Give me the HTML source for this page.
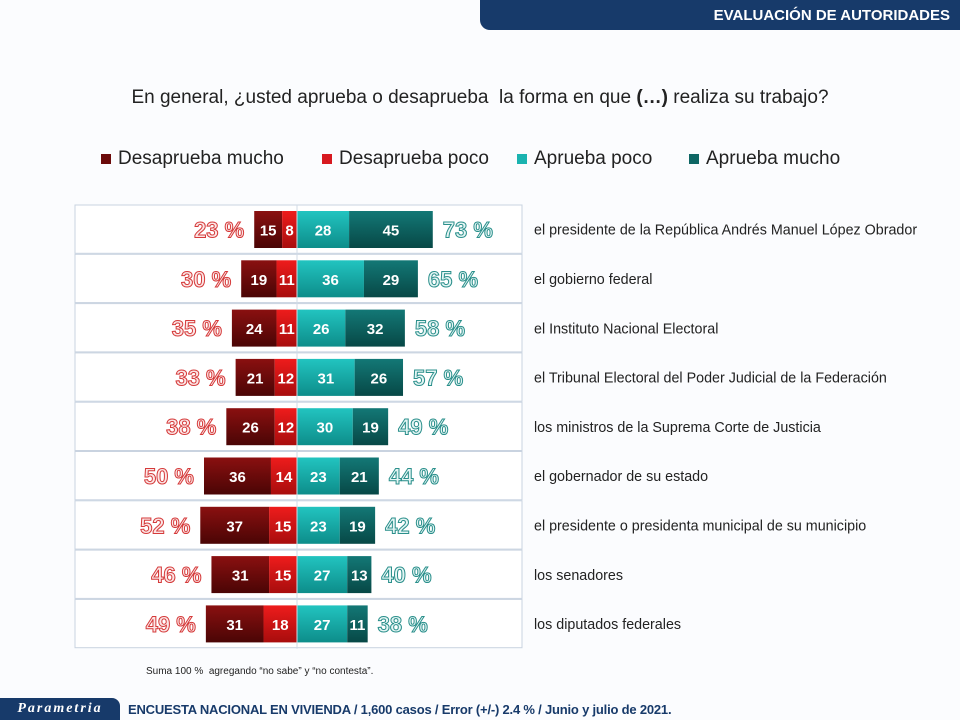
<!DOCTYPE html>
<html><head><meta charset="utf-8">
<style>
body{margin:0;width:960px;height:720px;overflow:hidden;background:#fbfcfe;font-family:"Liberation Sans",sans-serif;position:relative}
.abs{position:absolute}
.lg{position:absolute;top:148px;font-size:19px;color:#222;white-space:nowrap}
.sw{position:absolute;left:-17px;top:6px;width:10px;height:10px}
</style></head><body>
<div class="abs" style="left:480px;top:0;width:480px;height:30px;background:#173a6a;border-bottom-left-radius:10px"></div>
<div class="abs" style="right:10px;top:7px;color:#fff;font-weight:bold;font-size:15px">EVALUACIÓN DE AUTORIDADES</div>
<div class="abs" style="left:0;width:960px;top:87px;text-align:center;font-size:19px;color:#222">En general, ¿usted aprueba o desaprueba&nbsp; la forma en que <b>(…)</b> realiza su trabajo?</div>
<div class="lg" style="left:118px"><span class="sw" style="background:#6b0a0a"></span>Desaprueba mucho</div>
<div class="lg" style="left:339px"><span class="sw" style="background:#d71920"></span>Desaprueba poco</div>
<div class="lg" style="left:534px"><span class="sw" style="background:#1ab3b0"></span>Aprueba poco</div>
<div class="lg" style="left:706px"><span class="sw" style="background:#0e6664"></span>Aprueba mucho</div>
<svg class="abs" style="left:0;top:0" width="960" height="720" id="chart">
<defs>
<linearGradient id="gdm" x1="0" y1="0" x2="0" y2="1"><stop offset="0" stop-color="#8a1010"/><stop offset="1" stop-color="#4a0505"/></linearGradient>
<linearGradient id="gdp" x1="0" y1="0" x2="0" y2="1"><stop offset="0" stop-color="#ee1c1c"/><stop offset="1" stop-color="#a80d0d"/></linearGradient>
<linearGradient id="gap" x1="0" y1="0" x2="0" y2="1"><stop offset="0" stop-color="#22c4c0"/><stop offset="1" stop-color="#0d8d8a"/></linearGradient>
<linearGradient id="gam" x1="0" y1="0" x2="0" y2="1"><stop offset="0" stop-color="#137876"/><stop offset="1" stop-color="#074846"/></linearGradient>
</defs>
</svg>
<div class="abs" style="left:146px;top:666px;font-size:10px;color:#222">Suma 100 %&nbsp; agregando “no sabe” y “no contesta”.</div>
<div class="abs" style="left:0;top:698px;width:120px;height:22px;background:#173a6a;border-top-right-radius:8px;color:#fff;font-style:italic;font-weight:bold;font-size:14px;letter-spacing:2px;line-height:22px;text-align:center;font-family:'Liberation Serif',serif">Parametria</div>
<div class="abs" style="left:128px;top:702px;font-size:13px;font-weight:bold;color:#173a6a;white-space:nowrap;letter-spacing:-0.2px">ENCUESTA NACIONAL EN VIVIENDA / 1,600 casos / Error (+/-) 2.4 % / Junio y julio de 2021.</div>
<script>
const categories=["el presidente de la República Andrés Manuel López Obrador","el gobierno federal","el Instituto Nacional Electoral","el Tribunal Electoral del Poder Judicial de la Federación","los ministros de la Suprema Corte de Justicia","el gobernador de su estado","el presidente o presidenta municipal de su municipio","los senadores","los diputados federales"];
const desapruebaMucho=[15,19,24,21,26,36,37,31,31];
const desapruebaPoco=[8,11,11,12,12,14,15,15,18];
const apruebaPoco=[28,36,26,31,30,23,23,27,27];
const apruebaMucho=[45,29,32,26,19,21,19,13,11];
const totalDesaprueba=[23,30,35,33,38,50,52,46,49];
const totalAprueba=[73,65,58,57,49,44,42,40,38];
const svg=document.getElementById('chart');
const NS='http://www.w3.org/2000/svg';
const cx=297,k=1.86,top0=205,step=49.3;
const x=v=>cx+v*k;
const rowY=i=>top0+i*step;
function mk(t,a){const e=document.createElementNS(NS,t);for(const n in a)e.setAttribute(n,a[n]);svg.appendChild(e);return e;}
categories.forEach((c,i)=>{
 const y=rowY(i);
 const box=mk('rect',{x:75,y:y,width:447,height:step-1,fill:'#fff',stroke:'#c9d3e0','stroke-width':1});
 
 const by=y+6,bh=37;
 const segs=[[x(-desapruebaMucho[i]-desapruebaPoco[i]),desapruebaMucho[i],'url(#gdm)','bar-desaprueba-mucho'],
  [x(-desapruebaPoco[i]),desapruebaPoco[i],'url(#gdp)','bar-desaprueba-poco'],
  [x(0),apruebaPoco[i],'url(#gap)','bar-aprueba-poco'],
  [x(apruebaPoco[i]),apruebaMucho[i],'url(#gam)','bar-aprueba-mucho']];
 segs.forEach(s=>{
  const r=mk('rect',{x:s[0],y:by,width:s[1]*k,height:bh,fill:s[2]});
  
  const t=mk('text',{x:s[0]+s[1]*k/2,y:by+bh/2+6,'text-anchor':'middle','font-size':15,'font-weight':'bold',fill:'#fff','font-family':'Liberation Sans'});
  t.textContent=s[1];
 });
 const tl=mk('text',{x:x(-totalDesaprueba[i])-10,y:by+bh/2+8,'text-anchor':'end','font-size':22,'font-weight':'bold',fill:'#fbe5e5',stroke:'#d53a3a','stroke-width':1,'font-family':'Liberation Sans'});
 tl.textContent=totalDesaprueba[i]+' %';
 const tr=mk('text',{x:x(totalAprueba[i])+10,y:by+bh/2+8,'font-size':22,'font-weight':'bold',fill:'#e3f5f4',stroke:'#2a8f8b','stroke-width':1,'font-family':'Liberation Sans'});
 tr.textContent=totalAprueba[i]+' %';
 const lb=mk('text',{x:534,y:y+step/2+5,'font-size':14.3,fill:'#222','font-family':'Liberation Sans'});
 lb.textContent=c;
});
const ax=mk('line',{x1:cx,x2:cx,y1:top0,y2:rowY(categories.length),stroke:'#d0dbe6','stroke-width':1});

</script>
</body></html>
